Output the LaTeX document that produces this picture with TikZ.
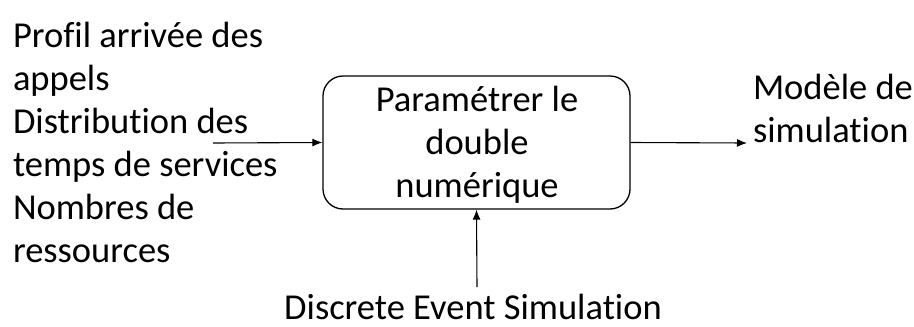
\documentclass[tikz,border=0pt]{standalone}
\usepackage{fontspec}
\setmainfont{Carlito}[Ligatures=NoCommon]
\usetikzlibrary{arrows.meta}
\begin{document}
\begin{tikzpicture}[x=1pt,y=-1pt,
  lbl/.style={inner sep=0pt,outer sep=0pt,font=\fontsize{36.5}{43}\selectfont},
  procbox/.style={draw,line width=1.3pt,rounded corners=20pt,minimum width=307pt,minimum height=133pt,inner sep=0pt},
  conn/.style={line width=1.1pt,-{Latex[length=10pt,width=8pt]}}]
\useasboundingbox (0,0) rectangle (914,327);
\node[procbox] (box) at (476.5,142.5) {};
\node[lbl,align=center,anchor=base] (boxtxt) at (477,197) {Paramétrer le\\double\\numérique};
\node[lbl,anchor=base west,align=left] (inputs) at (13,262) {Profil arrivée des\\appels\\Distribution des\\temps de services\\Nombres de\\ressources};
\node[lbl,anchor=base west,align=left] (out) at (753,142) {Modèle de\\simulation};
\node[lbl,anchor=base] (mech) at (473,319) {Discrete Event Simulation};
\coordinate (inL) at (213,143);
\coordinate (outR) at (747,143);
\coordinate (mechT) at (477,287);
\draw[conn] (inL) -- (box.west);
\draw[conn] (box.east) -- (outR);
\draw[conn] (mechT) -- (box.south);
\end{tikzpicture}
\end{document}
